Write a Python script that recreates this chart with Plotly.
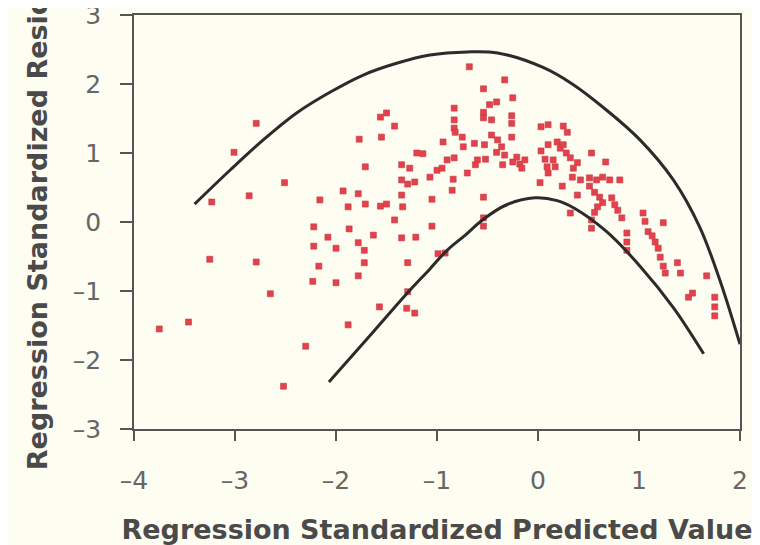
import plotly.graph_objects as go

# Scatter points: standardized predicted value (x) vs standardized residual (y)
pred = [-3.75, -3.46, -3.25, -3.23, -3.01, -2.86, -2.79, -2.79, -2.65, -2.52,
        -2.51, -2.30, -2.23, -2.22, -2.22, -2.17, -2.16, -2.08, -2.00, -2.00,
        -1.93, -1.88, -1.87, -1.88, -1.78, -1.78, -1.78, -1.77, -1.72, -1.72,
        -1.71, -1.71, -1.63, -1.57, -1.56, -1.50, -1.56, -1.50, -1.55, -1.42,
        -1.42, -1.35, -1.27, -1.35, -1.29, -1.22, -1.35, -1.34, -1.35, -1.21,
        -1.29, -1.29, -1.30, -1.22, -1.20, -1.14, -1.07, -1.05, -1.05, -1.00,
        -0.95, -0.99, -0.92, -0.94, -0.90, -0.85, -0.84, -0.83, -0.83, -0.83,
        -0.83, -0.82, -0.75, -0.74, -0.70, -0.68, -0.63, -0.60, -0.62, -0.54,
        -0.54, -0.54, -0.53, -0.52, -0.54, -0.54, -0.54, -0.48, -0.41, -0.46,
        -0.46, -0.40, -0.41, -0.36, -0.33, -0.35, -0.33, -0.25, -0.26, -0.26,
        -0.26, -0.25, -0.21, -0.18, -0.16, -0.13, 0.03, 0.10, 0.25, 0.29,
        0.03, 0.07, 0.10, 0.09, 0.10, 0.19, 0.22, 0.25, 0.28, 0.32,
        0.39, 0.35, 0.17, 0.15, 0.53, 0.67, 0.02, 0.24, 0.34, 0.42,
        0.51, 0.58, 0.64, 0.71, 0.81, 0.39, 0.32, 0.51, 0.56, 0.61,
        0.64, 0.73, 0.76, 0.79, 0.83, 0.59, 0.56, 0.53, 0.53, 0.88,
        0.88, 0.88, 1.04, 1.06, 1.24, 1.09, 1.13, 1.16, 1.19, 1.21,
        1.24, 1.26, 1.38, 1.41, 1.49, 1.53, 1.67, 1.75, 1.75, 1.75]
resid = [-1.55, -1.45, -0.54, 0.29, 1.01, 0.38, 1.43, -0.58, -1.04, -2.38,
         0.57, -1.80, -0.86, -0.07, -0.35, -0.64, 0.32, -0.22, -0.38, -0.88,
         0.45, 0.22, -0.10, -1.49, 0.41, -0.30, -0.78, 1.20, -0.41, -0.59,
         0.80, 0.26, -0.19, -1.23, 0.23, 0.26, 1.52, 1.58, 1.23, 1.39,
         0.03, 0.83, 0.78, 0.61, 0.55, 0.58, 0.39, 0.22, -0.23, -0.22,
         -0.59, -1.01, -1.25, -1.32, 1.00, 0.99, 0.65, 0.33, -0.06, 0.75,
         0.78, -0.46, -0.45, 1.16, 0.90, 0.46, 0.62, 0.93, 1.65, 1.48,
         1.36, 1.30, 1.23, 1.09, 0.71, 2.25, 1.14, 0.90, 0.83, 1.93,
         1.59, 1.51, 1.12, 0.91, 0.36, 0.06, -0.06, 1.70, 1.74, 1.48,
         1.26, 1.19, 1.01, 1.09, 0.97, 0.83, 2.06, 1.80, 1.54, 1.43,
         1.23, 0.87, 0.94, 0.84, 0.78, 0.90, 1.38, 1.41, 1.39, 1.30,
         1.03, 0.91, 1.12, 0.80, 0.71, 1.16, 1.07, 1.12, 1.00, 0.93,
         0.86, 0.78, 0.80, 0.90, 1.00, 0.87, 0.57, 0.52, 0.65, 0.61,
         0.64, 0.61, 0.65, 0.61, 0.61, 0.39, 0.13, 0.52, 0.43, 0.36,
         0.28, 0.35, 0.25, 0.17, 0.06, 0.22, 0.14, 0.03, -0.09, -0.16,
         -0.29, -0.41, 0.13, 0.01, -0.01, -0.14, -0.20, -0.29, -0.38, -0.51,
         -0.64, -0.74, -0.59, -0.74, -1.09, -1.03, -0.78, -1.09, -1.23, -1.36]

# Upper and lower envelope curves
upper_x = [-3.40, -3.05, -2.72, -2.39, -2.06, -1.73, -1.40, -1.07, -0.70, -0.40,
           0.05, 0.35, 0.68, 1.01, 1.34, 1.60, 1.80, 2.00]
upper_y = [0.26, 0.75, 1.19, 1.58, 1.88, 2.13, 2.30, 2.42, 2.465, 2.45,
           2.24, 1.99, 1.62, 1.19, 0.61, -0.07, -0.84, -1.77]
lower_x = [-2.07, -1.63, -1.30, -1.07, -0.90, -0.72, -0.55, -0.31, -0.03, 0.19,
           0.36, 0.68, 1.01, 1.34, 1.64]
lower_y = [-2.32, -1.59, -1.04, -0.68, -0.41, -0.19, 0.03, 0.25, 0.35, 0.31,
           0.20, -0.14, -0.64, -1.24, -1.91]

x_ticks = [-4, -3, -2, -1, 0, 1, 2]
x_labels = ["\u20134", "\u20133", "\u20132", "\u20131", "0", "1", "2"]
y_ticks = [-3, -2, -1, 0, 1, 2, 3]
y_labels = ["\u20133", "\u20132", "\u20131", "0", "1", "2", "3"]

x_title = "Regression Standardized Predicted Value"
y_title = "Regression Standardized Residual"

BG = "#FDFDF1"
AXIS = "#555555"
TITLE_FONT = dict(family="DejaVu Sans", size=27, color="#4a4a4a", weight="bold")

fig = go.Figure()
fig.add_trace(go.Scatter(
    x=pred, y=resid, mode="markers",
    marker=dict(symbol="square", size=6, color="#E5414D",
                line=dict(width=0.6, color="#C23A44")),
    showlegend=False, cliponaxis=False))
fig.add_trace(go.Scatter(
    x=upper_x, y=upper_y, mode="lines",
    line=dict(color="#2b2b2b", width=3, shape="spline", smoothing=1.0),
    showlegend=False, cliponaxis=False))
fig.add_trace(go.Scatter(
    x=lower_x, y=lower_y, mode="lines",
    line=dict(color="#2b2b2b", width=3, shape="spline", smoothing=1.0),
    showlegend=False, cliponaxis=False))

fig.update_layout(
    width=760, height=545,
    margin=dict(l=126, r=28, t=7, b=124),
    paper_bgcolor=BG, plot_bgcolor=BG,
    font=dict(family="DejaVu Sans", color="#666666"),
    xaxis=dict(
        range=[-4, 2], tickvals=x_ticks, ticktext=x_labels,
        ticks="outside", ticklen=10, tickwidth=1.5, tickcolor=AXIS,
        showline=True, linecolor=AXIS, linewidth=1.5, mirror=True,
        showgrid=False, zeroline=False, automargin=False,
        tickfont=dict(family="DejaVu Sans", size=25, color="#666666"),
        ticklabelstandoff=18, ticklabeloverflow="allow",
        title=dict(text=x_title, font=TITLE_FONT, standoff=26),
    ),
    yaxis=dict(
        range=[-3, 3], tickvals=y_ticks, ticktext=y_labels,
        ticks="outside", ticklen=12, tickwidth=1.5, tickcolor=AXIS,
        showline=True, linecolor=AXIS, linewidth=1.5, mirror=True,
        showgrid=False, zeroline=False, automargin=False,
        tickfont=dict(family="DejaVu Sans", size=25, color="#666666"),
        ticklabelstandoff=14, ticklabeloverflow="allow",
    ),
    annotations=[dict(
        text=y_title, textangle=-90, showarrow=False,
        xref="paper", yref="paper", x=-0.158, y=-0.105,
        xanchor="center", yanchor="bottom", font=TITLE_FONT,
    )],
)

fig.write_html("out.html")
